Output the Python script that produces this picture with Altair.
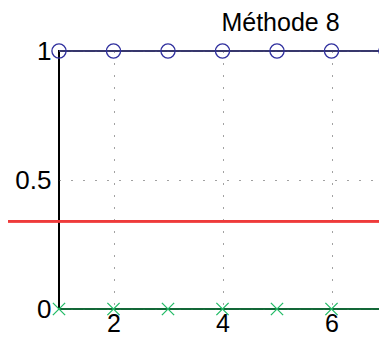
import altair as alt
import pandas as pd

x_vals = [1, 2, 3, 4, 5, 6, 7]
top_vals = [1, 1, 1, 1, 1, 1, 1]
bottom_vals = [0, 0, 0, 0, 0, 0, 0]
red_level = 0.34
x_ticks = [2, 4, 6]
y_ticks = [0, 0.5, 1]
title_text = "Méthode 8"

df = pd.DataFrame({"x": x_vals, "top": top_vals, "bottom": bottom_vals})

FONT = "Liberation Sans"
xs = alt.Scale(domain=[1, 7], nice=False, zero=False)
ys = alt.Scale(domain=[0, 1], nice=False, zero=False)

xaxis = alt.Axis(values=x_ticks, grid=True, gridDash=[1, 11], gridColor="#444444",
                 gridWidth=1, domain=False, ticks=False, labelPadding=2, format="~g",
                 labelFontSize=25, labelFont=FONT, labelColor="black", title=None)
yaxis = alt.Axis(values=y_ticks, grid=True, gridDash=[1, 11], gridColor="#444444",
                 gridWidth=1, domain=False, ticks=False, labelPadding=8, format="~g",
                 labelFontSize=26, labelFont=FONT, labelColor="black", title=None)

base = alt.Chart(df)

grid = base.mark_point(opacity=0).encode(
    x=alt.X("x:Q", scale=xs, axis=xaxis),
    y=alt.Y("top:Q", scale=ys, axis=yaxis),
)

red = base.mark_rule(color="#ee3b3b", strokeWidth=2, clip=False).encode(
    y=alt.datum(red_level, scale=ys),
    x=alt.value(-59),
    x2=alt.value(330),
)

blue_line = base.mark_line(color="#4a4a90", strokeWidth=1.5, clip=False).encode(
    x=alt.X("x:Q", scale=xs), y=alt.Y("top:Q", scale=ys))
blue_pts = base.mark_point(shape="circle", filled=False, color="#2f2f9e", size=201,
                           strokeWidth=1.3, clip=False, opacity=1).encode(
    x=alt.X("x:Q", scale=xs), y=alt.Y("top:Q", scale=ys))

green_line = base.mark_line(color="#1a8a4a", strokeWidth=1.5, clip=False).encode(
    x=alt.X("x:Q", scale=xs), y=alt.Y("bottom:Q", scale=ys))
green_pts = base.mark_point(shape="M-1,-1L1,1M-1,1L1,-1", filled=False, color="#22bb66",
                            size=150, strokeWidth=1.3, clip=False, opacity=1).encode(
    x=alt.X("x:Q", scale=xs), y=alt.Y("bottom:Q", scale=ys))

chart = alt.layer(grid, red, blue_line, blue_pts, green_line, green_pts).properties(
    width=327, height=258,
    title=alt.TitleParams(title_text, font=FONT, fontSize=25, fontWeight="normal",
                          color="black", anchor="middle", dx=58, offset=2),
    autosize=alt.AutoSizeParams(type="none"),
    padding={"left": 51, "top": 43, "right": -7, "bottom": 28},
).configure_view(stroke="black", strokeWidth=2)

chart.save("out.html", embed_options={"renderer": "svg", "actions": False})
